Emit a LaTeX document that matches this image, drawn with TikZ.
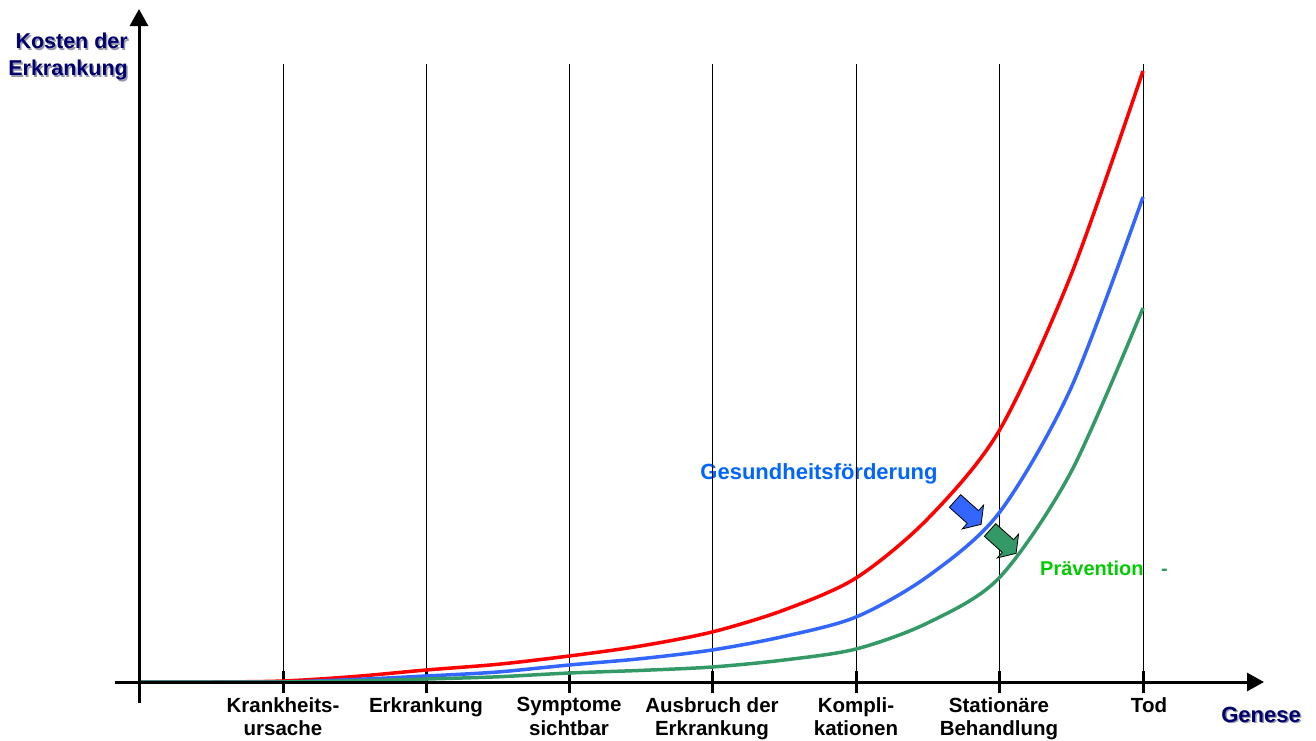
\documentclass[tikz,border=0pt]{standalone}
\usepackage{fontspec}
\setmainfont{Liberation Sans}
\usetikzlibrary{arrows.meta}
\definecolor{navy}{RGB}{0,0,110}
\definecolor{cred}{RGB}{255,0,0}
\definecolor{cblue}{RGB}{51,102,255}
\definecolor{cgreen}{RGB}{51,153,102}
\definecolor{tblue}{RGB}{0,102,255}
\definecolor{tgreen}{RGB}{0,204,0}
\definecolor{shadowgray}{RGB}{150,150,170}
\tikzset{
  pics/blockarr/.style={code={
    \draw[draw=black, line width=0.8pt, line join=miter, fill=#1]
      (0,-8.5) -- (24,-8.5) -- (24,-16) -- (35,0) -- (24,16) -- (24,8.5) -- (0,8.5) -- cycle;}}
}
\begin{document}
\begin{tikzpicture}[x=1pt,y=-1pt,
  axisline/.style={line width=3pt,-{Triangle[length=17pt,width=18pt]}},
  gridline/.style={line width=0.9pt},
  tickmark/.style={line width=3pt},
  curve/.style={line width=3.5pt,line join=round},
  lbl/.style={font=\fontsize{20.5}{23.5}\selectfont\bfseries, align=center, anchor=north, inner sep=0pt},
  axlbl/.style={font=\fontsize{21.5}{27}\selectfont\bfseries, text=navy, inner sep=0pt},
  shadowlbl/.style={font=\fontsize{21.5}{27}\selectfont\bfseries, text=shadowgray, inner sep=0pt},
  genlbl/.style={font=\fontsize{22}{27}\selectfont\bfseries, inner sep=0pt}
]
\useasboundingbox (0,0) rectangle (1316,740);
\fill[white] (0,0) rectangle (1316,740);

% curve labels (behind grid lines)
\node[font=\fontsize{22}{26}\selectfont\bfseries, text=tblue, anchor=base, inner sep=0pt] (gesund) at (819,479) {Gesundheitsförderung};
\node[font=\fontsize{20}{24}\selectfont\bfseries, text=tgreen, anchor=base west, inner sep=0pt] (praev) at (1040,575) {Prävention};
\node[font=\fontsize{20}{24}\selectfont\bfseries, text=cgreen, anchor=base west, inner sep=0pt] (praevdash) at (1161,575) {-};

% grid lines and ticks
\foreach \i/\x in {1/283,2/426,3/569,4/712,5/856,6/999,7/1143}{
  \coordinate (g\i top) at (\x,64);
  \coordinate (g\i bot) at (\x,682);
  \draw[gridline] (g\i top) -- (g\i bot);
  \coordinate (t\i a) at (\x,671);
  \coordinate (t\i b) at (\x,693);
  \draw[tickmark] (t\i a) -- (t\i b);
}

% curves (axis at y=682)
\draw[curve, cred] plot[smooth, tension=0.5] coordinates {
  (139,682) (211,682) (283,681) (354.5,676.5) (426,670) (497.5,664.3) (569,656)
  (640.5,646) (712,632) (784,610) (856,578) (927.5,519) (999,431) (1071,275) (1143,71)};
\draw[curve, cblue] plot[smooth, tension=0.5] coordinates {
  (139,682) (211,682) (283,682) (354.5,679.5) (426,676) (497.5,672) (569,665)
  (640.5,658.7) (712,650) (784,636.4) (856,617) (927.5,576.5) (999,513) (1071,388) (1143,197)};
\draw[curve, cgreen] plot[smooth, tension=0.5] coordinates {
  (139,682) (211,682) (283,682) (354.5,680.8) (426,679) (497.5,676.8) (569,673)
  (640.5,670.4) (712,667) (784,660) (856,649) (927.5,623) (999,578) (1071,472) (1143,308)};

% block arrows
\pic[rotate=-41.8] (arrblue) at (955,501) {blockarr=cblue};
\pic[rotate=-41.8] (arrgreen) at (990,530) {blockarr=cgreen};

% axes
\coordinate (yaxB) at (139,703);
\coordinate (yaxT) at (139,9);
\coordinate (xaxL) at (115,682);
\coordinate (xaxR) at (1264,682);
\draw[axisline] (yaxB) -- (yaxT);
\draw[axisline] (xaxL) -- (xaxR);

% axis labels
\node[shadowlbl, align=right, anchor=north east] (kostenS) at (129.5,34.5) {Kosten der\\Erkrankung};
\node[axlbl, align=right, anchor=north east] (kosten) at (128,33) {Kosten der\\Erkrankung};
\node[genlbl, text=shadowgray, anchor=base] (geneseS) at (1262.5,723.5) {Genese};
\node[genlbl, text=navy, anchor=base] (genese) at (1261,722) {Genese};

% tick labels
\node[lbl] (l1) at (283,697) {Krankheits-\\ursache};
\node[lbl] (l2) at (426,697) {Erkrankung};
\node[lbl] (l3) at (569,697) {Symptome\\sichtbar};
\node[lbl] (l4) at (712,697) {Ausbruch der\\Erkrankung};
\node[lbl] (l5) at (856,697) {Kompli-\\kationen};
\node[lbl] (l6) at (999,697) {Stationäre\\Behandlung};
\node[lbl] (l7) at (1149,697) {Tod};
\end{tikzpicture}
\end{document}
